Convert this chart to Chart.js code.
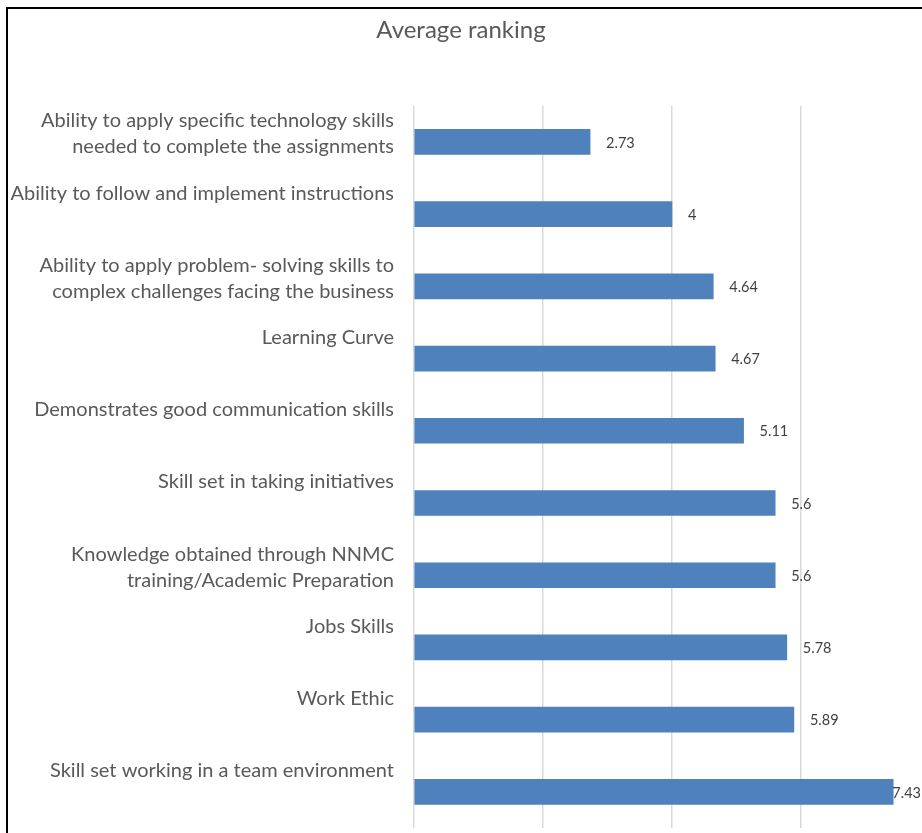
<!DOCTYPE html>
<html>
<head>
<meta charset="utf-8">
<script src="https://cdn.jsdelivr.net/npm/chart.js@4/dist/chart.umd.min.js"></script>
<style>
  html, body { margin: 0; padding: 0; background: #fff; overflow: hidden; }
  canvas { display: block; }
</style>
</head>
<body>
<canvas id="bar" width="922" height="833"></canvas>
<script>
var categories = [
  ["Ability to apply specific technology skills", "needed to complete the assignments"],
  ["Ability to follow and implement instructions", ""],
  ["Ability to apply problem- solving skills to", "complex challenges facing the business"],
  ["Learning Curve", ""],
  ["Demonstrates good communication skills", ""],
  ["Skill set in taking initiatives", ""],
  ["Knowledge obtained through NNMC", "training/Academic Preparation"],
  ["Jobs Skills", ""],
  ["Work Ethic", ""],
  ["Skill set working in a team environment", ""]
];
var averageRanking = [2.73, 4, 4.64, 4.67, 5.11, 5.6, 5.6, 5.78, 5.89, 7.43];
var valueLabels = ["2.73", "4", "4.64", "4.67", "5.11", "5.6", "5.6", "5.78", "5.89", "7.43"];

var barColor = "#4f81bd";
var textColor = "#595959";

// frame of the original picture (top and left edges only are visible)
var framePlugin = {
  id: "frame",
  afterDraw: function (chart) {
    var ctx = chart.ctx;
    ctx.save();
    ctx.strokeStyle = "#000";
    ctx.lineWidth = 2;
    ctx.beginPath();
    ctx.moveTo(7, chart.height);
    ctx.lineTo(7, 8);
    ctx.lineTo(chart.width, 8);
    ctx.stroke();
    ctx.restore();
  }
};

// value labels at the end of each bar
var valuePlugin = {
  id: "values",
  afterDatasetsDraw: function (chart) {
    var ctx = chart.ctx;
    var meta = chart.getDatasetMeta(0);
    ctx.save();
    ctx.font = "14.5px Lato";
    ctx.fillStyle = "#404040";
    ctx.textBaseline = "middle";
    ctx.textAlign = "left";
    meta.data.forEach(function (bar, i) {
      var txt = valueLabels[i];
      var w = ctx.measureText(txt).width;
      var x = Math.min(bar.x + 16, chart.width - w - 1);
      ctx.fillText(txt, x, bar.y + 1);
    });
    ctx.restore();
  }
};

var bCtx = document.getElementById("bar").getContext("2d");
var bar = new Chart(bCtx, {
  type: "bar",
  data: {
    labels: categories,
    datasets: [
      {
        label: "Average ranking",
        data: averageRanking,
        backgroundColor: barColor,
        barThickness: 25
      }
    ]
  },
  options: {
    indexAxis: "y",
    responsive: false,
    animation: false,
    layout: {
      padding: { left: 0, right: 0, top: 0, bottom: 5 }
    },
    plugins: {
      legend: { display: false },
      tooltip: { enabled: false },
      title: {
        display: true,
        text: "Average ranking",
        color: textColor,
        font: { family: "Lato", size: 24, weight: "normal" },
        padding: { top: 16, bottom: 61 }
      }
    },
    scales: {
      x: {
        min: 0,
        max: 7.876,
        afterFit: function (scale) { scale.height = 0; },
        ticks: { display: false, stepSize: 2 },
        border: { display: false },
        grid: {
          drawTicks: false,
          lineWidth: 1.5,
          color: function (c) {
            return c.tick && c.tick.value % 2 === 0 ? "#d9d9d9" : "rgba(0,0,0,0)";
          }
        }
      },
      y: {
        afterFit: function (scale) {
          scale.width = 414;
          scale.paddingTop = 0;
          scale.paddingBottom = 0;
        },
        border: { display: false },
        grid: { display: false, drawTicks: false },
        ticks: {
          color: textColor,
          padding: 20,
          labelOffset: -8,
          font: { family: "Lato", size: 20, lineHeight: 1.3 }
        }
      }
    }
  },
  plugins: [valuePlugin, framePlugin]
});
</script>
</body>
</html>
